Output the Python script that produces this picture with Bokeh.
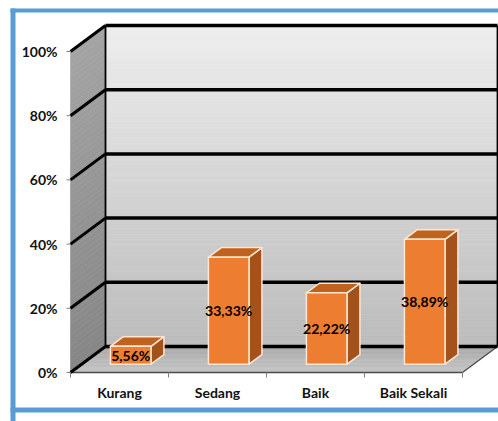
import numpy as np
from bokeh.plotting import figure
from bokeh.models import Range1d
from bokeh.core.properties import value
from bokeh.embed import file_html
from bokeh.resources import INLINE

# ---------------- data ----------------
categories = ["Kurang", "Sedang", "Baik", "Baik Sekali"]
values = [5.56, 33.33, 22.22, 38.89]
value_labels = ["5,56%", "33,33%", "22,22%", "38,89%"]
y_ticks = [0, 20, 40, 60, 80, 100]
y_tick_labels = ["0%", "20%", "40%", "60%", "80%", "100%"]

# ---------------- layout constants ----------------
W, H = 498, 421
OFF = 0                 # page offset of the canvas
X0, CW = 119.0, 98.0    # page x of first category centre, px per category
Y0, PPU = 372.0, 3.21   # page y of 0 %, px per percent


def fx(px):
    return (px - X0) / CW


def fy(py):
    return (Y0 - py) / PPU


DX = 35 / CW          # depth offset (x) in category units
DY = 26 / PPU         # depth offset (y) in percent units
F0, FT, HW = 0.32, 0.37, 0.207   # bar front depth, bar depth, half width
XL, XR = -0.5, len(categories) - 0.5
YMAX = 100

FONT = value("Lato")
BLUE = "#5b9bd5"


def lerp(c1, c2, t):
    a = [int(c1[i:i + 2], 16) for i in (1, 3, 5)]
    b = [int(c2[i:i + 2], 16) for i in (1, 3, 5)]
    return "#%02x%02x%02x" % tuple(int(round(a[k] + (b[k] - a[k]) * t)) for k in range(3))


p = figure(width=W, height=H, output_backend="svg", toolbar_location=None,
           x_range=Range1d(fx(OFF), fx(OFF + W)), y_range=Range1d(fy(OFF + H), fy(OFF)),
           x_axis_type=None, y_axis_type=None, min_border=0)
p.grid.visible = False
p.outline_line_color = None
p.background_fill_color = "white"
p.border_fill_color = "white"

# ---------------- back wall (gradient) ----------------
N = 60
edges = np.linspace(DY, YMAX + DY, N + 1)
cols = [lerp("#bcbcbc", "#ededed", k / (N - 1)) for k in range(N)]
p.quad(left=XL + DX, right=XR + DX, bottom=edges[:-1], top=edges[1:],
       fill_color=cols, line_color=cols, line_width=0.6)

# ---------------- side wall (gradient) ----------------
se = np.linspace(0, YMAX, N + 1)
sxs, sys_, scol = [], [], []
for k in range(N):
    a, b = se[k], se[k + 1]
    sxs.append([XL, XL, XL + DX, XL + DX])
    sys_.append([a, b, b + DY, a + DY])
    scol.append(lerp("#868686", "#a4a4a4", k / (N - 1)))
p.patches(sxs, sys_, fill_color=scol, line_color=scol, line_width=0.6)

# ---------------- floor (gradient) ----------------
M = 20
fe = np.linspace(0, 1, M + 1)
fxs, fys, fcol = [], [], []
for k in range(M):
    a, b = fe[k], fe[k + 1]
    fxs.append([XL + a * DX, XR + a * DX, XR + b * DX, XL + b * DX])
    fys.append([a * DY, a * DY, b * DY, b * DY])
    fcol.append(lerp("#c6c6c6", "#a9a9a9", k / (M - 1)))
p.patches(fxs, fys, fill_color=fcol, line_color=fcol, line_width=0.6)

# floor edges
p.segment(x0=[XL], y0=[0], x1=[XR], y1=[0], line_color="#4a4a4a", line_width=1.5)
p.segment(x0=[XR], y0=[0], x1=[XR + DX], y1=[DY], line_color="#4a4a4a", line_width=1.2)

# ---------------- gridlines ----------------
g = np.array(y_ticks, dtype=float)
p.segment(x0=[XL + DX] * len(g), y0=g + DY, x1=[XR + DX] * len(g), y1=g + DY,
          line_color="black", line_width=3.5)
p.segment(x0=[XL] * len(g), y0=g, x1=[XL + DX] * len(g), y1=g + DY,
          line_color="black", line_width=3)
# back wall vertical edges
p.segment(x0=[XL + DX, XR + DX], y0=[DY, DY], x1=[XL + DX, XR + DX], y1=[YMAX + DY, YMAX + DY],
          line_color="black", line_width=1.8)

# ---------------- tick marks ----------------
p.segment(x0=[fx(66)] * len(g), y0=g, x1=[XL] * len(g), y1=g, line_color="#808080", line_width=1)
xt = [XL + k for k in range(len(categories) + 1)]
p.segment(x0=xt, y0=[0] * len(xt), x1=xt, y1=[fy(377)] * len(xt), line_color="#808080", line_width=1)

# ---------------- 3D bars ----------------
front_x, front_y, top_x, top_y, side_x, side_y = [], [], [], [], [], []
ox0, oy0 = F0 * DX, F0 * DY
tx, ty = FT * DX, FT * DY
for i, v in enumerate(values):
    x0 = i - HW + ox0
    x1 = i + HW + ox0
    yb = oy0
    yt = oy0 + v
    front_x.append([x0, x1, x1, x0])
    front_y.append([yb, yb, yt, yt])
    top_x.append([x0, x1, x1 + tx, x0 + tx])
    top_y.append([yt, yt, yt + ty, yt + ty])
    side_x.append([x1, x1 + tx, x1 + tx, x1])
    side_y.append([yb, yb + ty, yt + ty, yt])

EDGE = "#fde6d2"
p.patches(side_x, side_y, fill_color="#a4521b", line_color=EDGE, line_width=1.5, line_join="round")
p.patches(top_x, top_y, fill_color="#c0621f", line_color=EDGE, line_width=1.5, line_join="round")
p.patches(front_x, front_y, fill_color="#ed7d31", line_color=EDGE, line_width=1.5, line_join="round")

# value labels (centre of front face)
p.text(x=[i + ox0 for i in range(len(values))], y=[oy0 + v / 2 for v in values], text=value_labels,
       text_font=FONT, text_font_style="bold", text_font_size="14px", text_color="black",
       text_align="center", text_baseline="middle")

# ---------------- axis labels ----------------
p.text(x=[fx(57)] * len(g), y=g, text=y_tick_labels, text_font=FONT, text_font_style="bold",
       text_font_size="14px", text_color="#111111", text_align="right", text_baseline="middle")
p.text(x=list(range(len(categories))), y=[fy(392)] * len(categories), text=categories,
       text_font=FONT, text_font_style="bold", text_font_size="14px", text_color="#111111",
       text_align="center", text_baseline="middle")

# ---------------- blue frame ----------------
p.segment(x0=[fx(10)], y0=[fy(10)], x1=[fx(510)], y1=[fy(10)], line_color=BLUE, line_width=4)
p.segment(x0=[fx(12.5)], y0=[fy(8)], x1=[fx(12.5)], y1=[fy(430)], line_color=BLUE, line_width=5)
p.segment(x0=[fx(10)], y0=[fy(409.5)], x1=[fx(510)], y1=[fy(409.5)], line_color=BLUE, line_width=5)

open("out.html", "w").write(file_html(p, INLINE))
